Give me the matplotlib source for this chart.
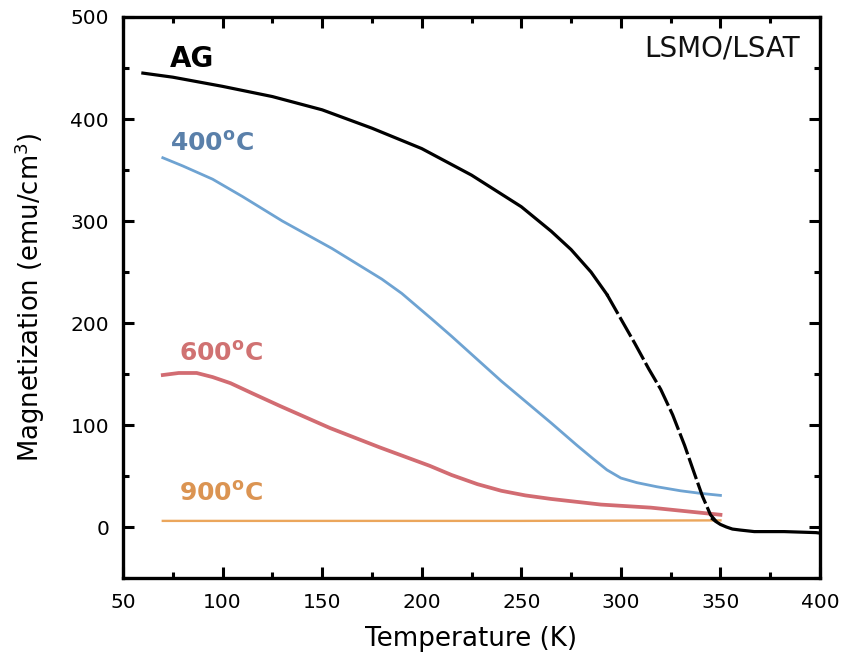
import matplotlib
matplotlib.use("Agg")
import matplotlib.pyplot as plt
from matplotlib.ticker import MultipleLocator

plt.rcParams['font.family'] = ['DejaVu Sans']
plt.rcParams['mathtext.fontset'] = 'dejavusans'

# As-grown film (K, emu/cm^3)
ag_T = [60, 75, 100, 125, 150, 175, 200, 225, 250, 265, 275, 285, 293]
ag_M = [445, 441, 432, 422, 409, 391, 371, 345, 314, 290, 272, 250, 228]
# steep region near Tc, where the measurement is sparse
ag_steep_T = [293, 300, 307, 314, 320, 326, 332, 337, 341, 345, 348]
ag_steep_M = [228, 204, 180, 155, 135, 110, 80, 52, 30, 12, 5]
# paramagnetic tail
ag_tail_T = [346, 348, 350, 353, 356, 360, 367, 375, 382, 390, 398, 400]
ag_tail_M = [8, 5, 2.5, 0, -2, -3, -4.5, -4.5, -4.5, -5, -5.5, -6]

# Annealed at 400 C
a400_T = [70, 80, 95, 110, 130, 155, 170, 180, 190, 205, 215, 240, 265, 278, 286, 293, 300, 308, 318, 330, 340, 350]
a400_M = [362, 354, 341, 324, 300, 273, 255, 243, 229, 204, 187, 143, 102, 80, 67, 56, 48, 43.5, 39.5, 35.5, 33, 31]

# Annealed at 600 C
a600_T = [70, 78, 87, 95, 104, 115, 129, 154, 179, 204, 215, 228, 240, 252, 265, 290, 315, 340, 350]
a600_M = [149, 151, 151, 147, 141, 131, 118.5, 97, 78, 60, 51, 42, 35.5, 31, 27.5, 22, 19, 14, 12]

# Annealed at 900 C
a900_T = [70, 150, 250, 350]
a900_M = [6, 6, 6, 6.5]

c_ag = 'black'
c400_line, c400_text = '#6ea3d2', '#5a80aa'
c600_line, c600_text = '#d26c72', '#d07272'
c900_line, c900_text = '#eba65c', '#db9452'

fig = plt.figure(figsize=(8.44, 6.64), dpi=100)
ax = fig.add_axes([0.1457, 0.1295, 0.8259, 0.8449])

ax.plot(a900_T, a900_M, color=c900_line, lw=1.7)
ax.plot(a600_T, a600_M, color=c600_line, lw=2.7)
ax.plot(a400_T, a400_M, color=c400_line, lw=2.0)
ax.plot(ag_T, ag_M, color=c_ag, lw=2.3)
ax.plot(ag_steep_T, ag_steep_M, color=c_ag, lw=2.3, dashes=(7, 1.2))
ax.plot(ag_tail_T, ag_tail_M, color=c_ag, lw=2.3)

ax.set_xlim(50, 400)
ax.set_ylim(-50, 500)
ax.xaxis.set_major_locator(MultipleLocator(50))
ax.xaxis.set_minor_locator(MultipleLocator(25))
ax.yaxis.set_major_locator(MultipleLocator(100))
ax.yaxis.set_minor_locator(MultipleLocator(50))

ax.tick_params(which='both', direction='in', top=True, right=True,
               width=2.2, labelsize=14.5)
ax.tick_params(axis='x', which='major', length=8, pad=11)
ax.tick_params(axis='y', which='major', length=8, pad=10)
ax.tick_params(which='minor', length=4.5)
for s in ax.spines.values():
    s.set_linewidth(2.4)

ax.set_xlabel('Temperature (K)', fontsize=18.8, labelpad=10)
ax.set_ylabel('Magnetization (emu/cm$^3$)', fontsize=18.6, labelpad=17)

ax.text(73.5, 459, 'AG', fontsize=20, fontweight='bold', color=c_ag, va='center')
ax.text(73.5, 376, r'400$^{\mathbf{o}}$C', fontsize=18, fontweight='bold', color=c400_text, va='center')
ax.text(78, 170, r'600$^{\mathbf{o}}$C', fontsize=18, fontweight='bold', color=c600_text, va='center')
ax.text(78, 33, r'900$^{\mathbf{o}}$C', fontsize=18, fontweight='bold', color=c900_text, va='center')
ax.text(390, 469, 'LSMO/LSAT', fontsize=20, color='#111111', ha='right', va='center')

fig.savefig('out.png', dpi=100)
